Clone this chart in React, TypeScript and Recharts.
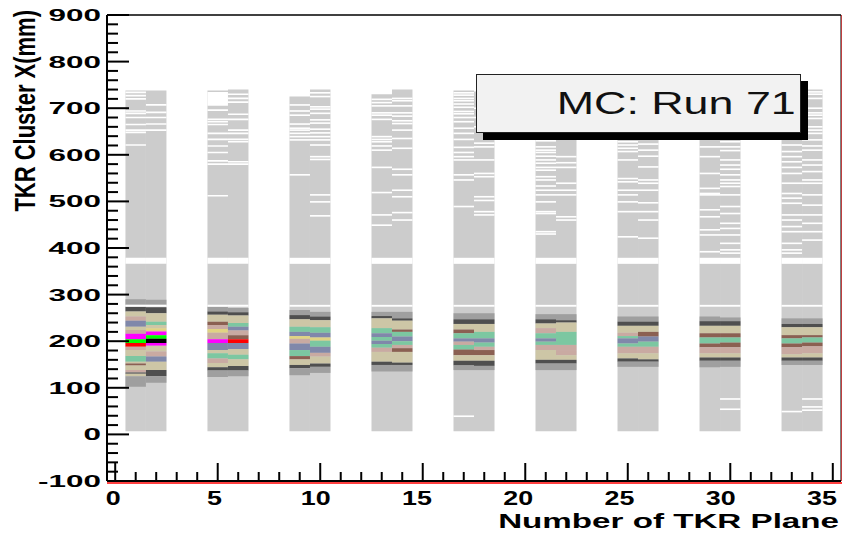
import { ComposedChart, XAxis, YAxis, ReferenceArea, ReferenceLine } from "recharts";

// TKR planes that have hits (two planes per tower)
const PLANES = [1, 2, 5, 6, 9, 10, 13, 14, 17, 18, 21, 22, 25, 26, 29, 30, 33, 34];

// occupied range of each plane (mm)
const HIT_FLOOR = 7;
const HIT_TOP = [738, 738, 738, 740, 725, 740, 730, 740, 738, 736, 736, 736, 738, 738, 740, 740, 738, 740];

// empty bins common to every plane (mm)
const COMMON_EMPTY = [
  [274, 278],
  [366, 379],
];
// wider empty stretch in a single plane: [plane, from, to]
const WIDE_EMPTY = [[5, 705, 735]];
const EMPTY_BIN = 3.5;

// centre of single empty bins, per plane
const EMPTY_ROWS = [
  [734, 727, 720, 694, 689, 680, 665, 653, 648, 621],
  [707, 691, 680, 666, 653],
  [696, 676, 671, 665, 646, 633, 619, 605, 587, 580, 512],
  [730, 721, 713, 687, 676, 653, 646, 633, 628, 585, 580],
  [707, 694, 685, 666, 657, 653, 646, 639, 632, 557],
  [733, 725, 703, 698, 689, 675, 668, 655, 647, 639, 632, 621, 596, 590, 514, 499, 469],
  [719, 712, 705, 690, 685, 676, 639, 633, 628, 619, 610, 573, 519, 471, 449],
  [721, 716, 705, 690, 683, 673, 667, 653, 635, 614, 569, 557, 524, 510, 476, 460],
  [733, 728, 721, 716, 709, 702, 693, 688, 680, 671, 657, 646, 633, 616, 605, 596, 589, 557, 546, 489, 39],
  [700, 680, 660, 625, 617, 589, 560, 553, 510, 502, 478, 471],
  [700, 660, 630, 617, 610, 605, 597, 589, 582, 573, 567, 553, 546, 533, 524, 514, 499, 478, 474, 435, 430],
  [690, 650, 596, 583, 573, 539, 524, 514, 467, 460],
  [700, 670, 628, 621, 614, 607, 589, 549, 542, 524, 514, 499, 478, 424],
  [690, 650, 623, 610, 597, 574, 546, 539, 524, 497, 478, 460, 421],
  [700, 660, 617, 596, 560, 528, 517, 514, 482, 467, 439, 428, 392],
  [690, 640, 628, 617, 609, 589, 578, 569, 557, 546, 539, 532, 514, 489, 474, 453, 442, 428, 410, 396, 389, 76, 54],
  [700, 650, 621, 607, 596, 585, 573, 560, 539, 517, 507, 496, 471, 460, 446, 435, 410, 396, 389, 49],
  [735, 730, 721, 700, 690, 685, 678, 660, 653, 646, 632, 619, 610, 589, 578, 564, 546, 539, 514, 492, 471, 453, 435, 417, 76, 59, 52],
];

// busy core of each plane: [from, to, content level]
const CORE = [
  [[278, 290, 1], [264, 274, 2], [253, 264, 3], [244, 253, 4], [231, 244, 7], [224, 231, 3], [216, 224, 4], [204, 216, 9], [196, 204, 11], [188, 196, 10], [181, 188, 4], [168, 181, 3], [156, 168, 6], [152, 156, 3], [148, 152, 5], [138, 148, 3], [133, 138, 4], [130, 133, 2], [125, 130, 3], [102, 125, 1]],
  [[278, 289, 1], [260, 273, 2], [242, 260, 3], [235, 242, 6], [228, 235, 3], [221, 228, 8], [213, 221, 9], [205, 213, 11], [196, 205, 12], [190, 196, 9], [178, 190, 3], [167, 178, 4], [156, 167, 7], [138, 156, 3], [125, 138, 2], [111, 125, 1]],
  [[264, 274, 1], [257, 264, 2], [242, 257, 3], [235, 242, 5], [226, 235, 4], [218, 226, 8], [204, 218, 4], [196, 204, 9], [181, 196, 7], [174, 181, 3], [163, 174, 6], [153, 163, 4], [144, 153, 3], [137, 144, 2], [123, 137, 1]],
  [[262, 271, 1], [255, 262, 2], [239, 255, 3], [231, 239, 6], [223, 231, 7], [213, 223, 4], [204, 213, 5], [196, 204, 10], [183, 196, 7], [171, 183, 3], [161, 171, 6], [147, 161, 3], [137, 147, 2], [125, 137, 1]],
  [[256, 267, 1], [247, 256, 2], [231, 247, 3], [220, 231, 6], [211, 220, 7], [205, 211, 8], [195, 205, 4], [181, 195, 7], [168, 181, 6], [161, 168, 5], [149, 161, 3], [142, 149, 2], [127, 142, 1]],
  [[253, 263, 1], [245, 253, 2], [230, 245, 3], [218, 230, 6], [208, 218, 7], [201, 208, 8], [188, 201, 6], [175, 188, 7], [167, 175, 4], [152, 167, 3], [145, 152, 2], [132, 145, 1]],
  [[254, 263, 1], [249, 254, 2], [228, 249, 3], [217, 228, 6], [209, 217, 7], [201, 209, 6], [194, 201, 7], [186, 194, 6], [177, 186, 4], [156, 177, 3], [149, 156, 2], [135, 149, 1]],
  [[249, 263, 1], [244, 249, 2], [225, 244, 3], [220, 225, 5], [210, 220, 6], [200, 210, 7], [192, 200, 6], [185, 192, 4], [177, 185, 5], [154, 177, 3], [149, 154, 2], [135, 149, 1]],
  [[247, 260, 1], [237, 247, 2], [225, 237, 3], [217, 225, 5], [206, 217, 6], [199, 206, 7], [192, 199, 4], [182, 192, 6], [170, 182, 5], [158, 170, 3], [148, 158, 2], [138, 148, 1]],
  [[247, 260, 1], [237, 247, 2], [220, 237, 3], [206, 220, 6], [197, 206, 7], [188, 197, 6], [181, 188, 4], [170, 181, 5], [158, 170, 3], [147, 158, 2], [138, 147, 1]],
  [[247, 258, 1], [238, 247, 2], [228, 238, 3], [217, 228, 4], [206, 217, 6], [199, 206, 7], [192, 199, 6], [181, 192, 4], [160, 181, 3], [152, 160, 2], [138, 152, 1]],
  [[245, 258, 1], [240, 245, 2], [220, 240, 3], [192, 220, 6], [181, 192, 4], [170, 181, 4], [160, 170, 3], [152, 160, 2], [138, 152, 1]],
  [[242, 253, 1], [233, 242, 2], [218, 233, 3], [211, 218, 4], [206, 211, 6], [195, 206, 7], [188, 195, 6], [174, 188, 4], [163, 174, 3], [156, 163, 2], [145, 156, 1]],
  [[242, 253, 1], [233, 242, 2], [220, 233, 3], [210, 220, 5], [199, 210, 7], [188, 199, 6], [174, 188, 4], [161, 174, 3], [156, 161, 2], [145, 156, 1]],
  [[243, 253, 1], [233, 243, 2], [217, 233, 3], [208, 217, 5], [195, 208, 6], [187, 195, 5], [174, 187, 4], [165, 174, 3], [158, 165, 2], [144, 158, 1]],
  [[243, 251, 1], [233, 243, 2], [217, 233, 3], [208, 217, 5], [197, 208, 6], [187, 197, 5], [174, 187, 4], [165, 174, 3], [158, 165, 2], [145, 158, 1]],
  [[237, 249, 1], [230, 237, 2], [213, 230, 3], [206, 213, 5], [195, 206, 6], [187, 195, 5], [172, 187, 4], [165, 172, 3], [158, 165, 2], [149, 158, 1]],
  [[237, 249, 1], [230, 237, 2], [213, 230, 3], [208, 213, 5], [197, 208, 6], [189, 197, 5], [174, 189, 4], [165, 174, 3], [158, 165, 2], [149, 158, 1]],
];

// colour for each content level (ROOT-like palette)
const PALETTE = [
  "#cccccc", "#9f9f9f", "#4f4f4f", "#cdc6a6", "#c9aaa2", "#8b6052",
  "#7cc7a1", "#8088aa", "#e0d383", "#ff00ff", "#ff0000", "#00ff00", "#000000",
];

const X_TICKS = Array.from({ length: 36 }, (_, i) => i);
const Y_TICKS = Array.from({ length: 51 }, (_, i) => -100 + i * 20);

const FONT = "'Liberation Sans', Arial, Helvetica, sans-serif";

function YTick(props: any) {
  const { x, y, payload } = props;
  const v = payload.value;
  const major = v % 100 === 0;
  return (
    <g>
      <line x1={x} y1={y} x2={x + (major ? 22 : 11)} y2={y} stroke="#000" strokeWidth={2} />
      {major && (
        <text
          transform={`translate(${x - 6}, ${y + 6}) scale(1.85, 1)`}
          textAnchor="end"
          fontFamily={FONT}
          fontWeight="bold"
          fontSize={17}
          fill="#000"
        >
          {v}
        </text>
      )}
    </g>
  );
}

function XTick(props: any) {
  const { x, y, payload } = props;
  const v = payload.value;
  const major = v % 5 === 0;
  // labels drift slightly left of their ticks in the original
  const shift = -2 - v * 0.25;
  return (
    <g>
      <line x1={x} y1={y} x2={x} y2={y - (major ? 18 : 9)} stroke="#000" strokeWidth={2} />
      {major && (
        <text
          transform={`translate(${x + shift}, ${y + 24}) scale(1.28, 1)`}
          textAnchor="middle"
          fontFamily={FONT}
          fontWeight="bold"
          fontSize={21}
          fill="#000"
        >
          {v}
        </text>
      )}
    </g>
  );
}

function XTitle(props: any) {
  const vb = props.viewBox;
  return (
    <text
      transform={`translate(${vb.x + vb.width - 2}, ${vb.y + 47}) scale(1.58, 1)`}
      textAnchor="end"
      fontFamily={FONT}
      fontWeight="bold"
      fontSize={21}
      fill="#000"
    >
      Number of TKR Plane
    </text>
  );
}

function YTitle(props: any) {
  const vb = props.viewBox;
  return (
    <text
      transform={`translate(${vb.x + 27}, ${vb.y - 5}) scale(1.33, 1) rotate(-90)`}
      textAnchor="end"
      fontFamily={FONT}
      fontWeight="bold"
      fontSize={22}
      fill="#000"
    >
      TKR Cluster X(mm)
    </text>
  );
}

export default function App() {
  const cells: any[] = [];
  PLANES.forEach((p, i) => {
    cells.push(
      <ReferenceArea
        key={`base-${p}`}
        x1={p - 0.5}
        x2={p + 0.5}
        y1={HIT_FLOOR}
        y2={HIT_TOP[i]}
        fill={PALETTE[0]}
        fillOpacity={1}
        stroke="none"
      />
    );
    CORE[i].forEach(([lo, hi, lvl], k) => {
      cells.push(
        <ReferenceArea
          key={`core-${p}-${k}`}
          x1={p - 0.5}
          x2={p + 0.5}
          y1={lo}
          y2={hi}
          fill={PALETTE[lvl]}
          fillOpacity={1}
          stroke="none"
        />
      );
    });
  });
  PLANES.forEach((p, i) => {
    const gaps = [
      ...COMMON_EMPTY,
      ...WIDE_EMPTY.filter((w) => w[0] === p).map((w) => [w[1], w[2]]),
      ...EMPTY_ROWS[i].map((c) => [c - EMPTY_BIN / 2, c + EMPTY_BIN / 2]),
    ];
    gaps.forEach(([lo, hi], k) => {
      cells.push(
        <ReferenceArea
          key={`gap-${p}-${k}`}
          x1={p - 0.5}
          x2={p + 0.5}
          y1={lo}
          y2={hi}
          fill="#ffffff"
          fillOpacity={1}
          stroke="none"
        />
      );
    });
  });

  return (
    <div style={{ position: "relative", width: 842, height: 525 }}>
      <ComposedChart
        width={842}
        height={525}
        data={[]}
        margin={{ top: 7, right: 9, bottom: 0, left: 0 }}
      >
        <XAxis
          type="number"
          dataKey="x"
          domain={[-0.4, 35.4]}
          ticks={X_TICKS}
          interval={0}
          tick={<XTick />}
          tickSize={0}
          tickMargin={0}
          tickLine={false}
          height={52}
          axisLine={{ stroke: "#000", strokeWidth: 2 }}
          allowDataOverflow
          label={<XTitle />}
        />
        <YAxis
          type="number"
          domain={[-100, 900]}
          ticks={Y_TICKS}
          interval={0}
          tick={<YTick />}
          tickSize={0}
          tickMargin={0}
          tickLine={false}
          width={99}
          axisLine={{ stroke: "#000", strokeWidth: 2 }}
          allowDataOverflow
          label={<YTitle />}
        />
        {cells}
        <ReferenceLine y={900} stroke="#000" strokeWidth={1.5} />
        <ReferenceLine x={35.4} stroke="#000" strokeWidth={1} />
        <ReferenceLine
          x={35.4}
          stroke="#ff0000"
          shape={(s: any) => (
            <line x1={s.x1 + 1.5} y1={s.y1} x2={s.x2 + 1.5} y2={s.y2} stroke="#ff0000" strokeWidth={2} />
          )}
        />
        <ReferenceLine
          y={-100}
          stroke="#ff0000"
          shape={(s: any) => (
            <line x1={s.x1} y1={s.y1 + 2} x2={s.x2 + 2.5} y2={s.y2 + 2} stroke="#ff0000" strokeWidth={1.5} />
          )}
        />
      </ComposedChart>
      <div
        style={{
          position: "absolute",
          left: 468,
          top: 66,
          width: 323,
          height: 57,
          background: "#f2f2f2",
          border: "1px solid #222",
          boxShadow: "7px 7px 0 #000",
          display: "flex",
          alignItems: "center",
          justifyContent: "flex-end",
          fontFamily: FONT,
          fontSize: 32,
          color: "#111",
          overflow: "visible",
        }}
      >
        <span style={{ display: "inline-block", transform: "scaleX(1.4)", transformOrigin: "right center", marginRight: 4 }}>
          MC: Run 71
        </span>
      </div>
    </div>
  );
}
